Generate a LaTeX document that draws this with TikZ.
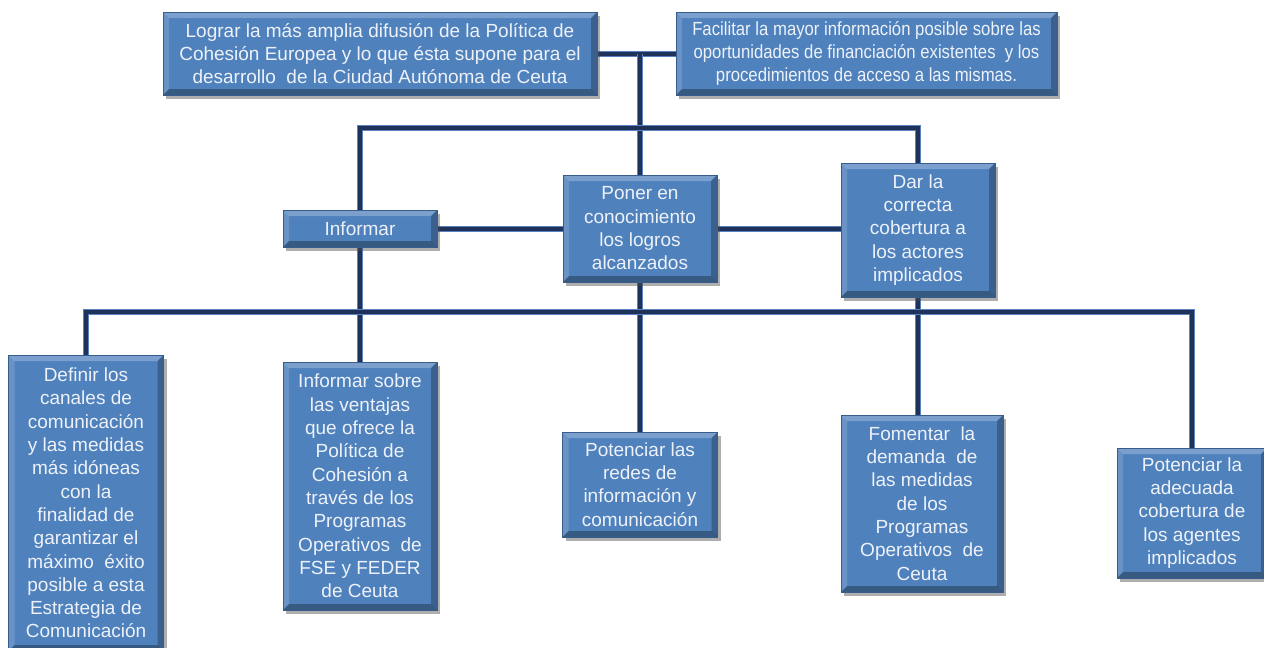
\documentclass[tikz,border=0pt]{standalone}
\usepackage{fontspec}
\setmainfont{Liberation Sans}
\newfontfamily\narrowfont[FakeStretch=0.88]{Liberation Sans}
\usetikzlibrary{shadows,backgrounds}
\definecolor{boxblue}{RGB}{79,129,189}
\definecolor{boxedge}{RGB}{56,93,138}
\definecolor{navy}{RGB}{31,50,90}
\definecolor{halo}{RGB}{90,130,190}
\definecolor{txt}{RGB}{238,242,248}
\tikzset{
  bx/.style={fill=boxblue, draw=boxedge, line width=0.8pt, text=txt, align=center,
    inner sep=2pt, font=\fontsize{19}{23.3}\selectfont,
    drop shadow={shadow xshift=3pt, shadow yshift=-4pt, opacity=0.45, fill=black!70},
    path picture={
      \fill[white,opacity=0.25] (path picture bounding box.north west) -- (path picture bounding box.north east)
        -- ([shift={(-6pt,-6pt)}]path picture bounding box.north east) -- ([shift={(6pt,-6pt)}]path picture bounding box.north west) -- cycle;
      \fill[white,opacity=0.15] (path picture bounding box.north west) -- (path picture bounding box.south west)
        -- ([shift={(6pt,6pt)}]path picture bounding box.south west) -- ([shift={(6pt,-6pt)}]path picture bounding box.north west) -- cycle;
      \fill[black,opacity=0.25] (path picture bounding box.north east) -- (path picture bounding box.south east)
        -- ([shift={(-6pt,6pt)}]path picture bounding box.south east) -- ([shift={(-6pt,-6pt)}]path picture bounding box.north east) -- cycle;
      \fill[black,opacity=0.3] (path picture bounding box.south west) -- (path picture bounding box.south east)
        -- ([shift={(-6pt,6pt)}]path picture bounding box.south east) -- ([shift={(6pt,6pt)}]path picture bounding box.south west) -- cycle;
    }},
  wire/.style={line width=4pt, draw=navy, preaction={draw=halo, line width=6pt}},
}
\begin{document}
\begin{tikzpicture}[x=1pt,y=-1pt]
\useasboundingbox (0,0) rectangle (1264,648);
\path
 (380,53.5) node[bx, minimum width=434, minimum height=83] (top1) {Lograr la más amplia difusión de la Política de\\Cohesión Europea y lo que ésta supone para el\\desarrollo\ \ de la Ciudad Autónoma de Ceuta}
 (866.5,53.5) node[bx, minimum width=381, minimum height=83, font=\narrowfont\fontsize{19}{23.3}\selectfont] (top2) {Facilitar la mayor información posible sobre las\\oportunidades de financiación existentes\ \ y los\\procedimientos de acceso a las mismas.}
 (360,228.5) node[bx, minimum width=154, minimum height=37] (inf) {Informar}
 (640,228.5) node[bx, minimum width=154, minimum height=107] (pon) {Poner en\\conocimiento\\los logros\\alcanzados}
 (918,230) node[bx, minimum width=154, minimum height=134] (dar) {Dar la\\correcta\\cobertura a\\los actores\\implicados}
 (86,503) node[bx, minimum width=155, minimum height=296] (def) {Definir los\\canales de\\comunicación\\y las medidas\\más idóneas\\con la\\finalidad de\\garantizar el\\máximo\ \ éxito\\posible a esta\\Estrategia de\\Comunicación}
 (360,486) node[bx, minimum width=154, minimum height=248] (ven) {Informar sobre\\las ventajas\\que ofrece la\\Política de\\Cohesión a\\través de los\\Programas\\Operativos\ \ de\\FSE y FEDER\\de Ceuta}
 (640,484.5) node[bx, minimum width=155, minimum height=105] (red) {Potenciar las\\redes de\\información y\\comunicación}
 (922,503.5) node[bx, minimum width=162, minimum height=177] (fom) {Fomentar\ \ la\\demanda\ \ de\\las medidas\\de los\\Programas\\Operativos\ \ de\\Ceuta}
 (1192,513) node[bx, minimum width=150, minimum height=130] (ade) {Potenciar la\\adecuada\\cobertura de\\los agentes\\implicados};

\coordinate (j0) at (pon.north |- top1.east);
\coordinate (barM) at (640,128);
\coordinate (barL) at (inf.north |- barM);
\coordinate (barR) at (dar.north |- barM);
\coordinate (lowL) at (def.north |- 0,312);
\coordinate (lowR) at (ade.north |- 0,312);

\begin{scope}[on background layer]
 \draw[wire] (top1.east) -- (top2.west);
 \draw[wire] (j0) -- (barM) -- (pon.north);
 \draw[wire] (inf.north) -- (barL) -- (barR) -- (dar.north);
 \draw[wire] (inf.east) -- (pon.west);
 \draw[wire] (pon.east) -- (pon.east -| dar.west);
 \draw[wire] (inf.south) -- (ven.north);
 \draw[wire] (pon.south) -- (red.north);
 \draw[wire] (dar.south) -- (dar.south |- fom.north);
 \draw[wire] (def.north) -- (lowL) -- (lowR) -- (ade.north);
\end{scope}
\end{tikzpicture}
\end{document}
